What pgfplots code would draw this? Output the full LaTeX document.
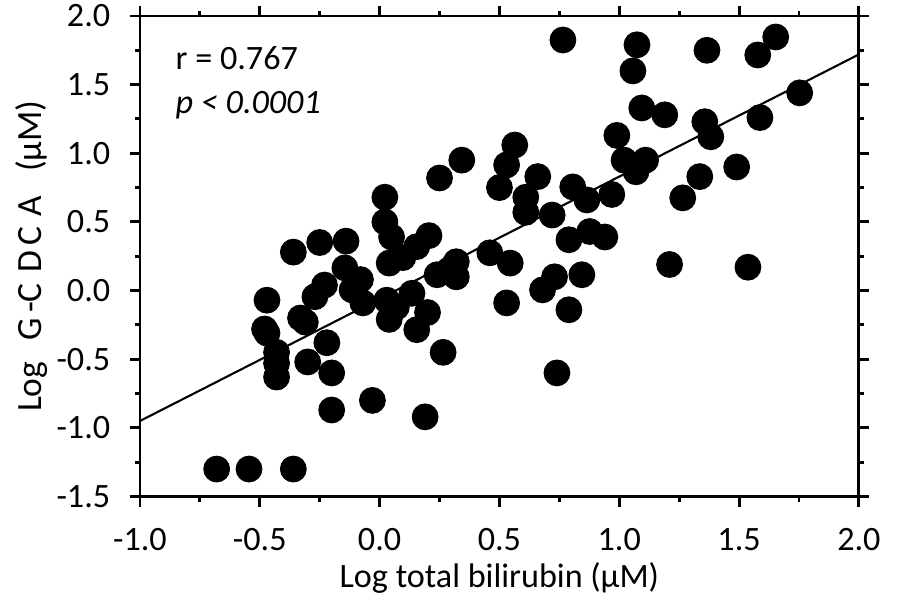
\documentclass[border=0pt]{standalone}
\usepackage{pgfplots}
\pgfplotsset{compat=1.18}
\usepackage{fontspec}
\setmainfont{Carlito}

\pgfplotstableread{
x y
-0.68 -1.30
-0.545 -1.30
-0.36 -1.30
-0.47 -0.07
-0.48 -0.28
-0.47 -0.31
-0.43 -0.45
-0.43 -0.53
-0.43 -0.63
-0.36 0.28
-0.33 -0.20
-0.31 -0.23
-0.30 -0.52
-0.27 -0.045
-0.25 0.35
-0.23 0.04
-0.22 -0.38
-0.20 -0.60
-0.20 -0.87
-0.14 0.36
-0.145 0.165
-0.115 0.005
-0.08 0.08
-0.07 -0.09
-0.03 -0.80
0.022 0.68
0.022 0.50
0.05 0.39
0.04 0.20
0.03 -0.07
0.04 -0.21
0.097 0.24
0.07 -0.12
0.135 -0.02
0.155 0.32
0.155 -0.285
0.206 0.40
0.20 -0.16
0.19 -0.92
0.24 0.115
0.25 0.82
0.265 -0.45
0.29 0.15
0.32 0.10
0.32 0.21
0.343 0.95
0.31 0.18
0.46 0.275
0.50 0.75
0.53 0.915
0.53 -0.09
0.545 0.20
0.564 1.06
0.61 0.68
0.61 0.57
0.66 0.83
0.68 0.005
0.72 0.55
0.73 0.10
0.74 -0.60
0.765 1.825
0.806 0.755
0.79 -0.14
0.79 0.37
0.844 0.115
0.865 0.66
0.877 0.43
0.94 0.39
0.969 0.70
0.99 1.13
1.02 0.95
1.057 1.60
1.074 1.79
1.07 0.865
1.094 1.33
1.11 0.95
1.19 1.28
1.21 0.19
1.265 0.675
1.336 0.83
1.357 1.23
1.366 1.75
1.382 1.12
1.49 0.90
1.537 0.17
1.578 1.716
1.587 1.26
1.653 1.847
1.753 1.44
}\scatterdata

\pgfplotstableread{
x y
-1.0 -0.95
2.0 1.72
}\fitline

\begin{document}
\begin{tikzpicture}
\begin{axis}[
  scale only axis,
  width=9.62cm, height=6.43cm,
  xmin=-1, xmax=2, ymin=-1.5, ymax=2,
  xtick={-1,-0.5,...,2}, ytick={-1.5,-1,...,2},
  minor xtick={-0.75,-0.25,0.25,0.75,1.25,1.75},
  minor ytick={-1.25,-0.75,-0.25,0.25,0.75,1.25,1.75},
  /pgf/number format/fixed,
  /pgf/number format/fixed zerofill,
  /pgf/number format/precision=1,
  /pgf/number format/assume math mode=true,
  tick label style={font=\fontsize{13}{15}\selectfont},
  label style={font=\fontsize{13}{15}\selectfont},
  xticklabel style={yshift=-0.17cm},
  yticklabel style={xshift=-0.14cm},
  tick align=outside, tick pos=both,
  major tick length=0.134cm, minor tick length=0.067cm,
  axis line style={line width=1.1pt},
  every tick/.style={black, line width=1.1pt},
  xlabel={Log total bilirubin (µM)},
  ylabel={Log\hspace{5pt} G\hspace{2pt}-C\hspace{4pt}D\hspace{2pt}C\hspace{4pt}A\hspace{6pt} (µM)},
  ylabel style={at={(rel axis cs:0,0.5)}, anchor=center, yshift=1.45cm, font=\fontsize{13.5}{15}\selectfont},
  xlabel style={at={(rel axis cs:0.5,0)}, anchor=center, yshift=-1.085cm},
  clip=false,
]
\addplot[black, line width=0.8pt, no markers] table {\fitline};
\addplot[only marks, mark=*, mark size=4.9pt, black] table {\scatterdata};
\node[anchor=west, font=\fontsize{13}{15}\selectfont, inner sep=0pt] at (rel axis cs:0.049,0.913) {r = 0.767};
\node[anchor=west, font=\fontsize{13}{15}\selectfont\itshape, inner sep=0pt] at (rel axis cs:0.049,0.815) {p < 0.0001};
\coordinate (ll) at (rel axis cs:0,0);
\coordinate (ur) at (rel axis cs:1,1);
\end{axis}
\pgfresetboundingbox
\path ([shift={(-1.873cm,-1.43cm)}]ll) rectangle ([shift={(0.51cm,0.214cm)}]ur);
\end{tikzpicture}
\end{document}
